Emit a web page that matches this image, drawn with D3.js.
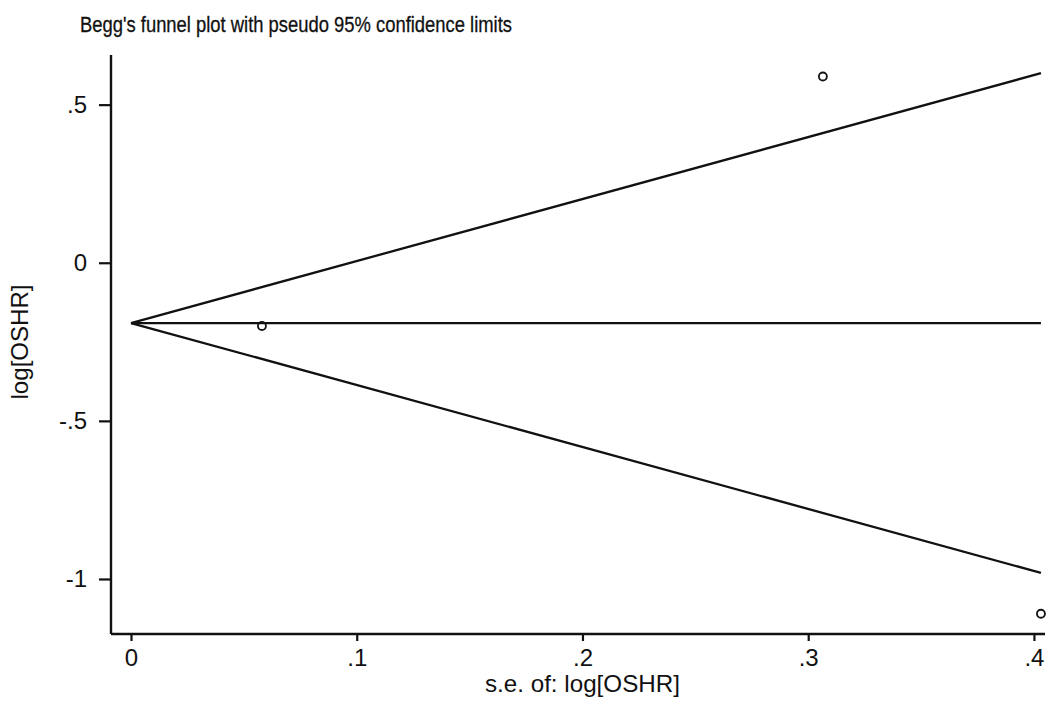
<!DOCTYPE html>
<html><head><meta charset="utf-8">
<script src="https://cdn.jsdelivr.net/npm/d3@7/dist/d3.min.js"></script>
<style>html,body{margin:0;padding:0;background:#fff;}svg{display:block;font-family:"Liberation Sans",Arial,sans-serif;}</style>
</head><body>
<svg id="chart" width="1062" height="708"></svg>
<script>
// Data
const seValues = [0.058, 0.3065, 0.4031];
const logHRValues = [-0.200, 0.589, -1.110];
const pooledEstimate = -0.1906;
const xTicks = [0, 0.1, 0.2, 0.3, 0.4];
const xTickLabels = ["0", ".1", ".2", ".3", ".4"];
const yTicks = [0.5, 0, -0.5, -1];
const yTickLabels = [".5", "0", "-.5", "-1"];
const titleText = "Begg's funnel plot with pseudo 95% confidence limits";
const xTitle = "s.e. of: log[OSHR]";
const yTitle = "log[OSHR]";

const svg = d3.select("#chart");
const x = d3.scaleLinear().domain([-0.00886, 0.4049]).range([111, 1045]);
const y = d3.scaleLinear().domain([-1.174, 0.657]).range([634, 55]);
const ink = "#111";

// title
svg.append("text").attr("x", 80).attr("y", 32).attr("font-size", 22)
  .attr("fill", ink).attr("stroke", ink).attr("stroke-width", 0.3)
  .attr("textLength", 432).attr("lengthAdjust", "spacingAndGlyphs")
  .text(titleText);

// axes
const xAxis = d3.axisBottom(x).tickValues(xTicks).tickSize(7).tickPadding(8)
  .tickFormat((d, i) => xTickLabels[i]);
const gx = svg.append("g").attr("transform", `translate(0,${y.range()[0]})`).call(xAxis);
gx.select(".domain").attr("d", `M${x.range()[0]},0H${x.range()[1]}`).attr("stroke", ink).attr("stroke-width", 2.4);
gx.selectAll(".tick line").attr("stroke", ink).attr("stroke-width", 2.2);
gx.selectAll(".tick text").attr("font-size", 24).attr("fill", ink)
  .attr("font-family", "Liberation Sans, Arial, sans-serif");

const yAxis = d3.axisLeft(y).tickValues(yTicks).tickSize(12).tickPadding(12)
  .tickFormat((d, i) => yTickLabels[i]);
const gy = svg.append("g").attr("transform", `translate(${x.range()[0]},0)`).call(yAxis);
gy.select(".domain").attr("d", `M0,${y.range()[1]}V${y.range()[0]}`).attr("stroke", ink).attr("stroke-width", 2.4);
gy.selectAll(".tick line").attr("stroke", ink).attr("stroke-width", 2.2);
gy.selectAll(".tick text").attr("font-size", 24).attr("fill", ink)
  .attr("font-family", "Liberation Sans, Arial, sans-serif");

// axis titles
svg.append("text").attr("x", (x(0.2))).attr("y", 692).attr("text-anchor", "middle")
  .attr("font-size", 24).attr("fill", ink).attr("textLength", 195).attr("lengthAdjust", "spacingAndGlyphs")
  .text(xTitle);
svg.append("text").attr("transform", `translate(28,342) rotate(-90)`).attr("text-anchor", "middle")
  .attr("font-size", 24).attr("fill", ink).attr("textLength", 115).attr("lengthAdjust", "spacingAndGlyphs")
  .text(yTitle);

// funnel lines
const seMax = d3.max(seValues);
const lineGen = d3.line().x(d => x(d[0])).y(d => y(d[1]));
const funnelUpper = [[0, pooledEstimate], [seMax, pooledEstimate + 1.96 * seMax]];
const funnelLower = [[0, pooledEstimate], [seMax, pooledEstimate - 1.96 * seMax]];
const pooledLine = [[0, pooledEstimate], [seMax, pooledEstimate]];
[funnelUpper, funnelLower, pooledLine].forEach(seg => {
  svg.append("path").attr("d", lineGen(seg)).attr("fill", "none")
    .attr("stroke", ink).attr("stroke-width", 2.3);
});

// points
svg.append("g").selectAll("circle").data(seValues).join("circle")
  .attr("cx", d => x(d)).attr("cy", (d, i) => y(logHRValues[i]))
  .attr("r", 4).attr("fill", "none").attr("stroke", ink).attr("stroke-width", 1.8);
</script>
</body></html>
